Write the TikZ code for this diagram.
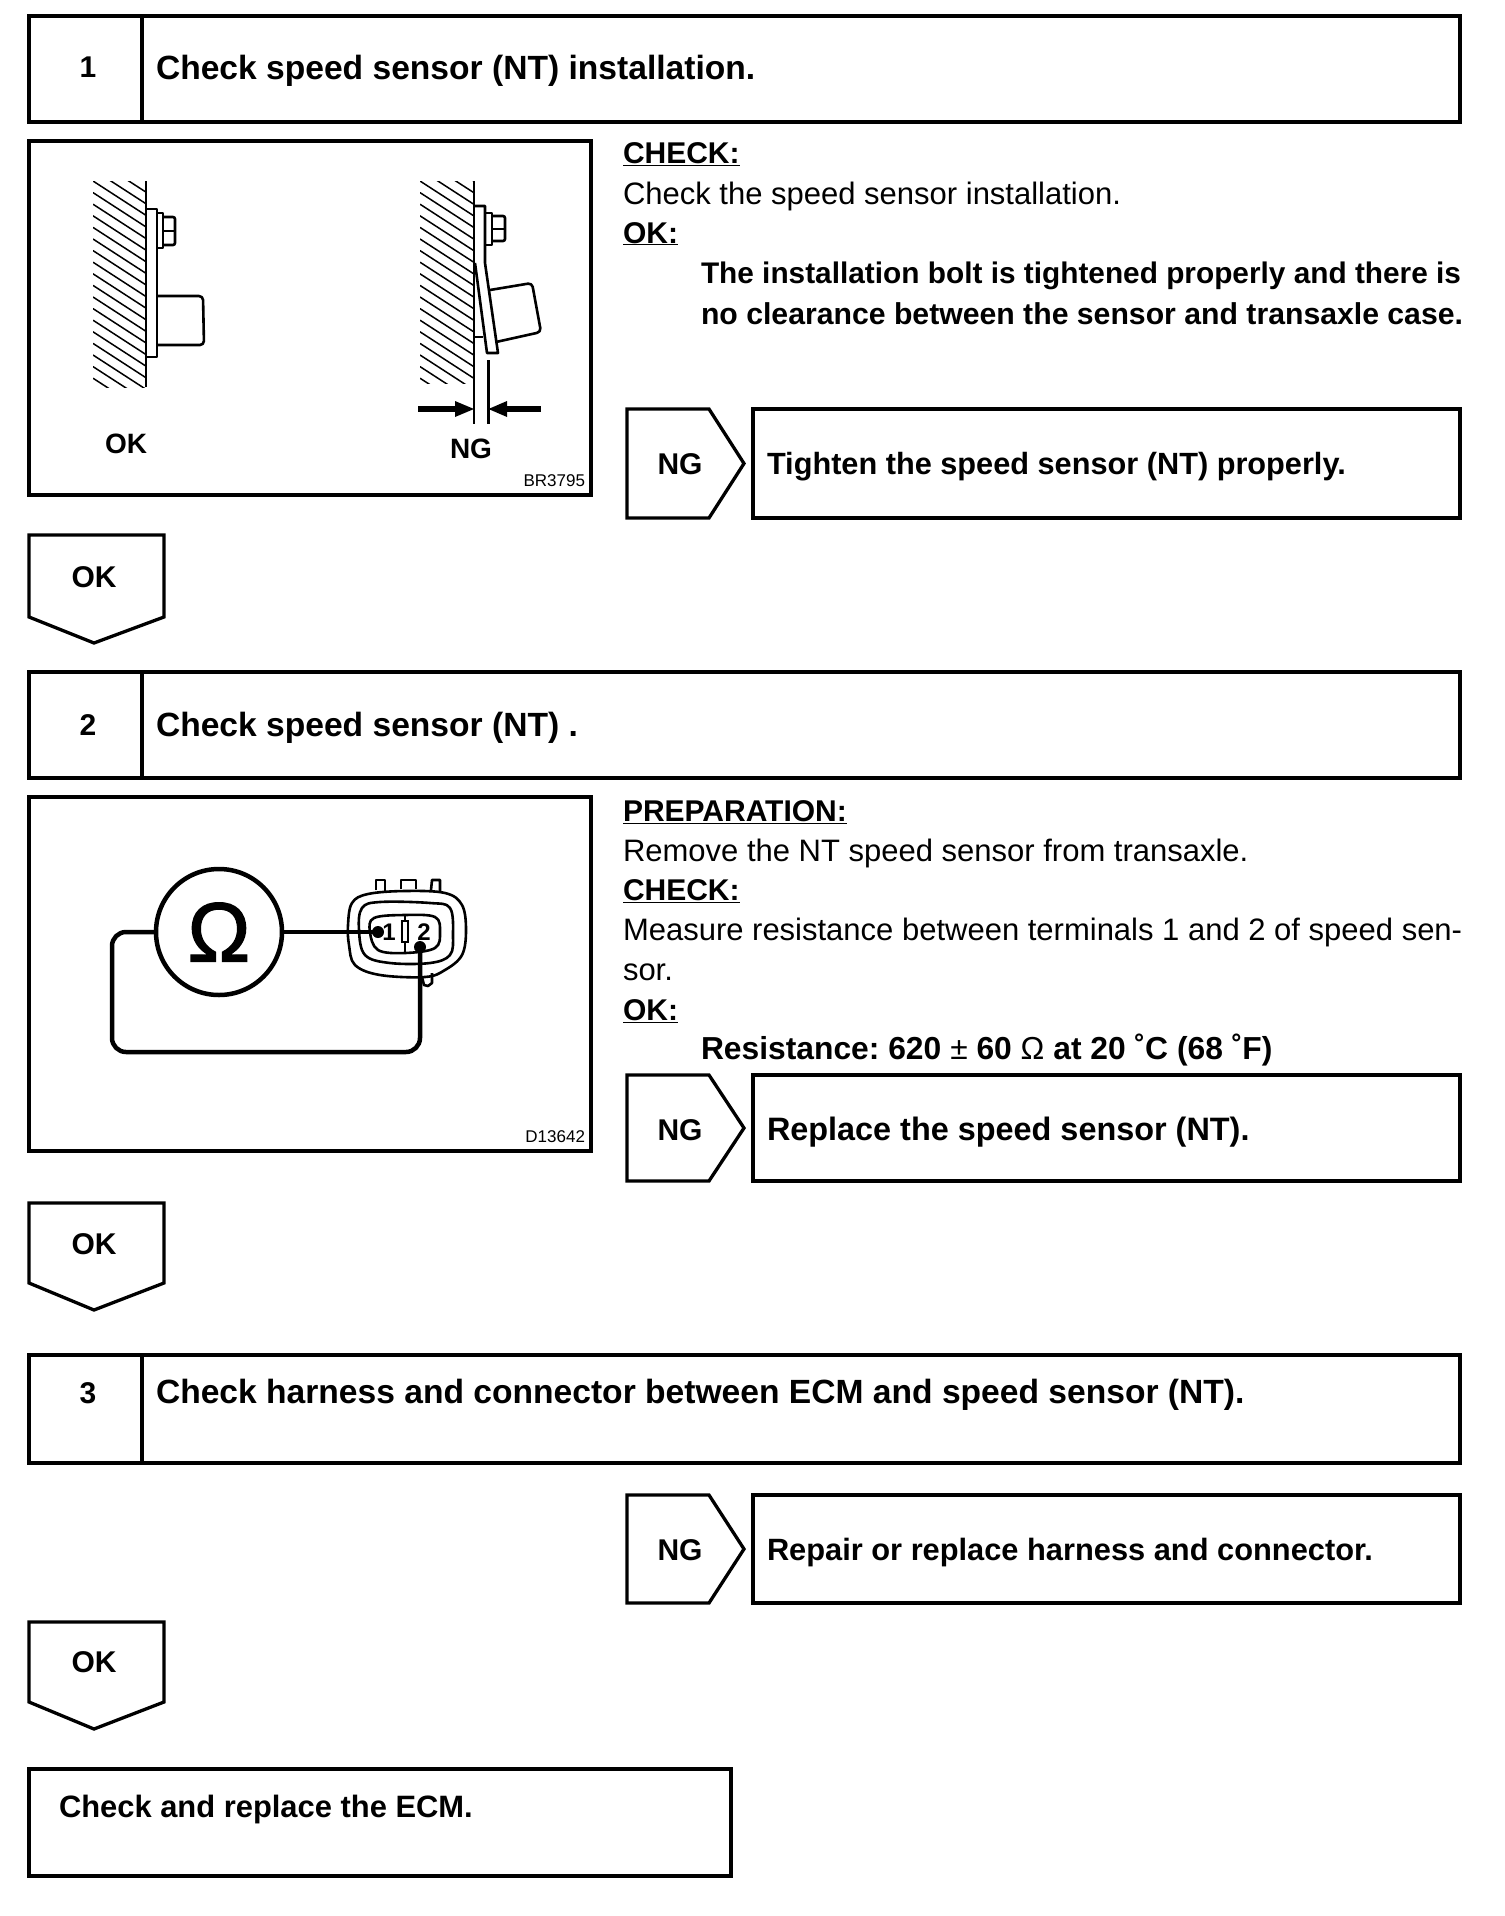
\documentclass[tikz,border=0pt]{standalone}
\usepackage{fontspec}
\setmainfont{Liberation Sans}
\newfontfamily\omfont[FakeBold=1.6]{Liberation Sans}
\usetikzlibrary{calc}
\frenchspacing
\newcommand{\fs}[1]{\fontsize{#1}{#1}\selectfont}
\tikzset{
  frame/.style={draw=black,line width=3.3pt,line join=miter},
  art/.style={draw=black,line width=2.6pt,line join=round},
  thin art/.style={draw=black,line width=1.5pt},
  wire/.style={draw=black,line width=4.5pt,line join=round},
  txt/.style={inner sep=0pt,outer sep=0pt,anchor=base west,font=\fs{31}},
  btxt/.style={txt,font=\fs{30}\bfseries},
  htxt/.style={txt,font=\fs{33.6}\bfseries},
  ctxt/.style={inner sep=0pt,outer sep=0pt,anchor=base,font=\fs{30}\bfseries},
  code/.style={inner sep=0pt,outer sep=0pt,anchor=base east,font=\fs{17}},
}
\newcommand{\HeadBox}[3]{% top, bottom, tag
  \draw[frame] (29,#1) rectangle (1460,#2);
  \draw[frame] (142,#1) -- (142,#2);
}
\newcommand{\NGBox}[2]{% top, bottom
  \draw[frame] (627,#1) -- (709,#1) -- (744,{(#1+#2)/2}) -- (709,#2) -- (627,#2) -- cycle;
  \draw[frame] (753,#1) rectangle (1460,#2);
}
\newcommand{\OKBox}[3]{% top, shoulder, tip
  \draw[frame] (29,#1) -- (164,#1) -- (164,#2) -- (94,#3) -- (29,#2) -- cycle;
}
\newcommand{\Hatch}[4]{% x1, x2, y1, y2
  \begin{scope}
    \clip (#1,#3) rectangle (#2,#4);
    \foreach \k in {-8,...,20} {
      \draw[thin art] (#1,{#3+\k*11.6}) -- ++(54,35);
    }
  \end{scope}
}
\begin{document}
\begin{tikzpicture}[x=1pt,y=-1pt]
\useasboundingbox (0,0) rectangle (1504,1916);
\fill[white] (0,0) rectangle (1504,1916);

% ---- Step 1
\HeadBox{16}{122}{1}
\node[ctxt] (n1) at (88,78) {1};
\node[htxt] (t1) at (156,80) {Check speed sensor (NT) installation.};
\draw[frame] (29,141) rectangle (591,495);

% OK sketch
\Hatch{93}{146}{181}{387}
\draw[art] (146,181) -- (146,387);
\draw[art] (146,209) -- (157,209) -- (157,357) -- (146,357);
\draw[art] (157,213) -- (163,213) -- (163,248) -- (157,248);
\draw[art,rounded corners=2pt] (163,217) -- (175,217) -- (175,245) -- (163,245);
\draw[thin art] (163,231) -- (175,231);
\draw[art,rounded corners=4pt] (157,296) -- (203,296) -- (204,345) -- (157,345);
\node[inner sep=0pt,anchor=base,font=\fs{28}\bfseries] (okl) at (126,453) {OK};

% NG sketch
\Hatch{420}{474}{181}{383}
\draw[art] (474,181) -- (474,383);
\draw[thin art] (474,383) -- (474,424);
\draw[art] (488.5,360) -- (488.5,424);
\draw[art] (474,206) -- (485,206) -- (485,263) -- (498,353) -- (487,353) -- (475,263);
\draw[art] (485,213) -- (492,213) -- (492,245) -- (485,245);
\draw[art,rounded corners=2pt] (492,216) -- (505,216) -- (505,241) -- (492,241);
\draw[thin art] (492,229) -- (505,229);
\draw[art,rounded corners=4pt] (490,290) -- (532,283) -- (541,332) -- (496,342);
\draw[art] (475,337) -- (483,337);
\fill (418,406) rectangle (456,412);
\fill (474,409) -- (455,401) -- (455,417) -- cycle;
\fill (541,406) rectangle (506,412);
\fill (488.5,409) -- (507,401) -- (507,417) -- cycle;
\node[inner sep=0pt,anchor=base,font=\fs{28}\bfseries] (ngl) at (471,458) {NG};
\node[code] (c1) at (585,486) {BR3795};

% Step 1 text
\node[btxt] (a1) at (623,164) {\underline{CHECK:}};
\node[txt] (a2) at (623,204) {Check the speed sensor installation.};
\node[btxt] (a3) at (623,243) {\underline{OK:}};
\node[btxt,font=\fs{29.8}\bfseries] (a4) at (701,283) {The installation bolt is tightened properly and there is};
\node[btxt,font=\fs{30.2}\bfseries] (a5) at (701,324) {no clearance between the sensor and transaxle case.};

\NGBox{409}{518}
\node[ctxt] (ng1) at (680,474) {NG};
\node[btxt,font=\fs{30.7}\bfseries] (r1) at (767,474) {Tighten the speed sensor (NT) properly.};
\OKBox{535}{617}{643}
\node[ctxt] (ok1) at (94,587) {OK};

% ---- Step 2
\HeadBox{672}{778}{2}
\node[ctxt] (n2) at (88,735) {2};
\node[htxt] (t2) at (156,736) {Check speed sensor (NT) .};
\draw[frame] (29,797) rectangle (591,1151);

% meter
\node[circle,draw=black,line width=4.5pt,minimum size=126pt,inner sep=0pt] (meter) at (219,932) {};
\node[inner sep=0pt,font=\fs{84}\omfont] (om) at (219,932) {Ω};
% connector
\draw[art] plot[smooth cycle,tension=0.6] coordinates {(348,925) (352,903) (368,894) (405,891) (445,893) (462,905) (466,930) (462,955) (445,970) (425,977) (380,975) (355,965) (349,945)};
\draw[art] (432,973) -- (432,983) -- (428,986) -- (424,985) -- (422,977);
\draw[art] plot[smooth cycle,tension=0.6] coordinates {(359,930) (362,908) (380,902) (430,903) (450,908) (453,935) (450,955) (430,963) (390,963) (365,955)};
\draw[art] plot[smooth cycle,tension=0.6] coordinates {(370,932) (374,918) (405,915) (435,917) (440,932) (435,948) (405,953) (378,950)};
\draw[art] (376,890) -- (376,880) -- (385,880) -- (385,891);
\draw[art] (401,889) -- (401,880) -- (416,880) -- (416,889);
\draw[art] (431,890) -- (432,880) -- (440,880) -- (440,892);
\draw[thin art] (405,915) -- (405,921) (402,921) rectangle (408,942) (405,942) -- (405,953);
\node[inner sep=0pt,font=\fs{24}\bfseries] (p1) at (389,932) {1};
\node[inner sep=0pt,font=\fs{24}\bfseries] (p2) at (424,932) {2};
\coordinate (w1) at (378,932);
\coordinate (w2) at (420,947);
\draw[wire] (meter.east) -- (w1);
\fill (w1) circle (6pt);
\draw[wire,rounded corners=14pt] (meter.west) -- (112,932) -- (112,1052) -- (420,1052) -- (w2);
\fill (w2) circle (6pt);
\node[code] (c2) at (585,1142) {D13642};

% Step 2 text
\node[btxt] (b1) at (623,821) {\underline{PREPARATION:}};
\node[txt] (b2) at (623,861) {Remove the NT speed sensor from transaxle.};
\node[btxt] (b3) at (623,900) {\underline{CHECK:}};
\node[txt,font=\fs{31}] (b4) at (623,940) {Measure resistance between terminals 1 and 2 of speed sen-};
\node[txt] (b5) at (623,980) {sor.};
\node[btxt] (b6) at (623,1020) {\underline{OK:}};
\node[btxt,font=\fs{31.8}\bfseries] (b7) at (701,1059) {Resistance: 620 {\mdseries ±} 60 {\mdseries Ω} at 20 ˚C (68 ˚F)};

\NGBox{1075}{1181}
\node[ctxt] (ng2) at (680,1140) {NG};
\node[btxt,font=\fs{32.4}\bfseries] (r2) at (767,1140) {Replace the speed sensor (NT).};
\OKBox{1203}{1283}{1310}
\node[ctxt] (ok2) at (94,1254) {OK};

% ---- Step 3
\HeadBox{1355}{1463}{3}
\node[ctxt] (n3) at (88,1403) {3};
\node[htxt] (t3) at (156,1403) {Check harness and connector between ECM and speed sensor (NT).};
\NGBox{1495}{1603}
\node[ctxt] (ng3) at (680,1560) {NG};
\node[btxt,font=\fs{30.8}\bfseries] (r3) at (767,1560) {Repair or replace harness and connector.};
\OKBox{1622}{1702}{1729}
\node[ctxt] (ok3) at (94,1672) {OK};

% ---- Final
\draw[frame] (29,1769) rectangle (731,1876);
\node[btxt,font=\fs{30.9}\bfseries] (end) at (59,1817) {Check and replace the ECM.};
\end{tikzpicture}
\end{document}
